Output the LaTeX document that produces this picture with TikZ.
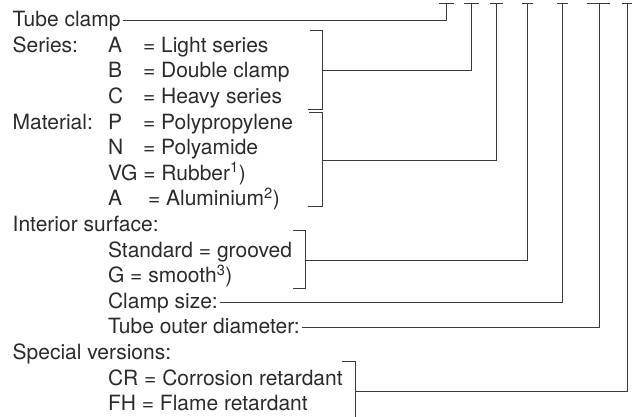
\documentclass[tikz,border=0pt]{standalone}
\usepackage{fontspec}
\setmainfont{TeX Gyre Heros}
\usetikzlibrary{calc}
\definecolor{ink}{HTML}{2B2B2B}
\definecolor{rule}{HTML}{3A3A3A}
\tikzset{
  txt/.style={anchor=base west, inner sep=0pt, outer sep=0pt, text=ink, font=\fontsize{21}{25}\selectfont},
  ln/.style={draw=rule, line width=0.9pt},
}
\begin{document}
\begin{tikzpicture}[x=1pt,y=-1pt]
\useasboundingbox (0,0) rectangle (632,416);
% code column tops
\coordinate (t1) at (446,3);
\coordinate (t2) at (471.7,3);
\coordinate (t3) at (496.7,3);
\coordinate (t4) at (527.7,3);
\coordinate (t5) at (562.7,3);
\coordinate (t6) at (599.3,3);
\coordinate (t7) at (627.5,3);
\draw[ln] ([xshift=-7.5pt]t1) -- ([xshift=7.5pt]t1);
\draw[ln] ([xshift=-7.5pt]t2) -- ([xshift=7.5pt]t2);
\draw[ln] ([xshift=-6.5pt]t3) -- ([xshift=6.5pt]t3);
\draw[ln] ([xshift=-5.5pt]t4) -- ([xshift=5.5pt]t4);
\draw[ln] ([xshift=-5.5pt]t5) -- ([xshift=5.5pt]t5);
\draw[ln] ([xshift=-12pt]t6) -- ([xshift=11pt]t6);
\draw[ln] ([xshift=-5.5pt]t7) -- ([xshift=5.5pt]t7);

% texts
\node[txt] (tc) at (12.7,26.7) {Tube clamp};
\node[txt] (ser) at (12.7,52.3) {Series:};
\node[txt] (sa) at (108,52.3) {A};
\node[txt] (sae) at (143,52.3) {= Light series};
\node[txt] (sb) at (108,77.9) {B};
\node[txt] (sbe) at (143,77.9) {= Double clamp};
\node[txt] (sc) at (108,103.5) {C};
\node[txt] (sce) at (143,103.5) {= Heavy series};
\node[txt] (mat) at (12.7,129.1) {Material:};
\node[txt] (mp) at (108,129.1) {P};
\node[txt] (mpe) at (143,129.1) {= Polypropylene};
\node[txt] (mn) at (108,154.7) {N};
\node[txt] (mne) at (143,154.7) {= Polyamide};
\node[txt] (mvg) at (108,180.3) {VG = Rubber\textsuperscript{1})};
\node[txt] (ma) at (108,205.9) {A};
\node[txt] (mae) at (148,205.9) {= Aluminium\textsuperscript{2})};
\node[txt] (int) at (12.7,231.5) {Interior surface:};
\node[txt] (ist) at (108,257.1) {Standard = grooved};
\node[txt] (ig) at (108,282.7) {G = smooth\textsuperscript{3})};
\node[txt] (cs) at (108,308.3) {Clamp size:};
\node[txt] (tod) at (108,333.9) {Tube outer diameter:};
\node[txt] (spv) at (12.7,359.5) {Special versions:};
\node[txt] (cr) at (108,385.1) {CR = Corrosion retardant};
\node[txt] (fh) at (108,410.7) {FH = Flame retardant};

% brackets
\draw[ln] (310,30.7) -- (322.7,30.7) -- (322.7,109.3) -- (308,109.3);
\draw[ln] (309,112.3) -- (322.7,112.3) -- (322.7,206.7) -- (308,206.7);
\draw[ln] (293.3,230.7) -- (305.7,230.7) -- (305.7,288.3) -- (293.3,288.3);
\draw[ln] (341.7,361) -- (355,361) -- (355,420);
\coordinate (bs) at (322.7,70);
\coordinate (bm) at (322.7,160);
\coordinate (bi) at (305.7,260.5);
\coordinate (bx) at (355,391.7);

% connectors
\draw[ln] ($(tc.base east)+(2,-6)$) -| (t1);
\draw[ln] (bs) -| (t2);
\draw[ln] (bm) -| (t3);
\draw[ln] (bi) -| (t4);
\draw[ln] ($(cs.base east)+(2,-6)$) -| (t5);
\draw[ln] ($(tod.base east)+(2,-6)$) -| (t6);
\draw[ln] (bx) -| (t7);
\end{tikzpicture}
\end{document}
